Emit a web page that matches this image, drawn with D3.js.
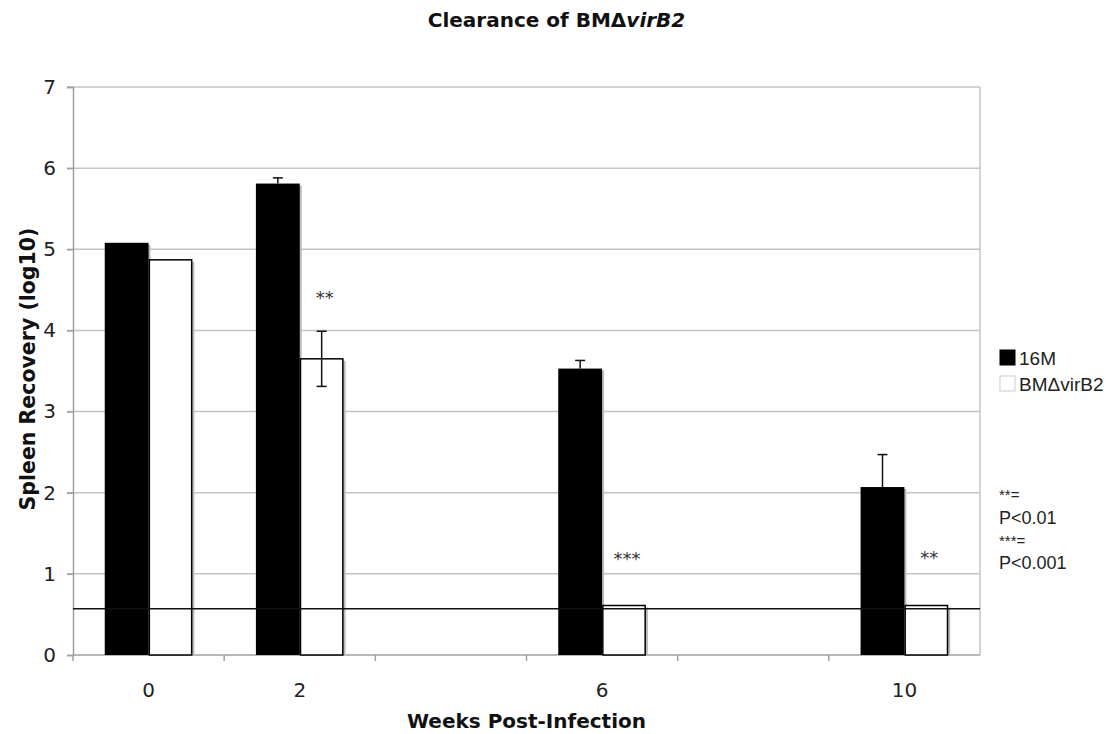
<!DOCTYPE html>
<html>
<head>
<meta charset="utf-8">
<script src="https://cdn.jsdelivr.net/npm/d3@7"></script>
<style>
  body { margin: 0; background: #fff; }
</style>
</head>
<body>
<div id="chart"></div>
<script>
// weeks post-infection (4 and 8 are empty slots on the axis)
const weeks = [0, 2, 4, 6, 8, 10];
const tickLabels = ["0", "2", "", "6", "", "10"];
const seriesNames = ["16M", "BM\u0394virB2"];
const m16 = [5.08, 5.81, null, 3.53, null, 2.07];
const virB2 = [4.87, 3.65, null, 0.61, null, 0.61];
const m16ErrUp = [0, 0.07, null, 0.10, null, 0.40];
const virB2ErrUp = [0, 0.34, null, 0, null, 0];
const virB2ErrDown = [0, 0.34, null, 0, null, 0];
const stars = ["", "**", "", "***", "", "**"];
const starLevel = [null, 4.45, null, 1.23, null, 1.24];
const detectionLimit = 0.57;
const yTicks = [0, 1, 2, 3, 4, 5, 6, 7];
const noteLines = ["**=", "P<0.01", "***=", "P<0.001"];

const W = 1113, H = 734;
const margin = {top: 87, right: 133, bottom: 79, left: 73},
    width = W - margin.left - margin.right,
    height = H - margin.top - margin.bottom;

const svg = d3.select("#chart").append("svg")
    .attr("width", W)
    .attr("height", H)
    .style("font-family", "'DejaVu Sans', Verdana, sans-serif");

const g = svg.append("g")
    .attr("transform", "translate(" + margin.left + "," + margin.top + ")");

const x0 = d3.scaleBand().domain(weeks).range([0, width]).padding(0);
const groupW = x0.bandwidth() * 0.58;
const x1 = d3.scaleBand().domain(seriesNames).range([0, groupW]);
const y = d3.scaleLinear().domain([0, 7]).range([height, 0]);

// gridlines
g.append("g")
    .selectAll("line")
    .data(yTicks.filter(d => d > 0))
    .join("line")
    .attr("x1", -6).attr("x2", width)
    .attr("y1", d => y(d)).attr("y2", d => y(d))
    .attr("stroke", "#c4c4c4").attr("stroke-width", 1.5);

// right border
g.append("line")
    .attr("x1", width).attr("x2", width)
    .attr("y1", y(7)).attr("y2", height)
    .attr("stroke", "#c4c4c4").attr("stroke-width", 1.5);

// y axis
const yAxis = g.append("g")
    .call(d3.axisLeft(y).tickValues(yTicks).tickSize(6).tickPadding(11).tickFormat(d3.format("d")));
yAxis.select(".domain").attr("stroke", "#a0a0a0").attr("stroke-width", 1.5);
yAxis.selectAll(".tick line").attr("stroke", "#a0a0a0").attr("stroke-width", 1.5);
yAxis.selectAll("text")
    .style("font-size", "20px")
    .style("font-family", "'DejaVu Sans', Verdana, sans-serif")
    .attr("fill", "#222");

// x axis: ticks on category boundaries
const xAxisG = g.append("g").attr("transform", "translate(0," + height + ")");
xAxisG.append("line")
    .attr("x1", 0).attr("x2", width)
    .attr("stroke", "#a0a0a0").attr("stroke-width", 1.5);
xAxisG.selectAll(".bt")
    .data(weeks)
    .join("line")
    .attr("class", "bt")
    .attr("x1", d => x0(d)).attr("x2", d => x0(d))
    .attr("y1", 0).attr("y2", 6)
    .attr("stroke", "#a0a0a0").attr("stroke-width", 1.5);
xAxisG.selectAll("text")
    .data(weeks)
    .join("text")
    .attr("x", d => x0(d) + x0.bandwidth() / 2)
    .attr("y", 42)
    .attr("text-anchor", "middle")
    .style("font-size", "20px")
    .attr("fill", "#222")
    .text((d, i) => tickLabels[i]);

// bars
const rows = weeks.map((w, i) => ({
    week: w,
    vals: [
        {s: seriesNames[0], v: m16[i], up: m16ErrUp[i], down: 0},
        {s: seriesNames[1], v: virB2[i], up: virB2ErrUp[i], down: virB2ErrDown[i]}
    ]
})).filter(r => r.vals[0].v != null);

const grp = g.selectAll(".grp")
    .data(rows)
    .join("g")
    .attr("class", "grp")
    .attr("transform", d => "translate(" + (x0(d.week) + (x0.bandwidth() - groupW) / 2) + ",0)");

// shadows
grp.selectAll(".shadow")
    .data(d => d.vals)
    .join("rect")
    .attr("class", "shadow")
    .attr("x", d => x1(d.s) + 2)
    .attr("y", d => y(d.v) + 2)
    .attr("width", x1.bandwidth())
    .attr("height", d => height - y(d.v) - 2)
    .attr("fill", "#bbb");

grp.selectAll(".bar")
    .data(d => d.vals)
    .join("rect")
    .attr("class", "bar")
    .attr("x", d => x1(d.s) + (d.s === seriesNames[0] ? 0 : 0.75))
    .attr("y", d => y(d.v))
    .attr("width", d => x1.bandwidth() - (d.s === seriesNames[0] ? 0 : 1.5))
    .attr("height", d => height - y(d.v))
    .attr("fill", d => d.s === seriesNames[0] ? "#000" : "#fff")
    .attr("stroke", "#000")
    .attr("stroke-width", d => d.s === seriesNames[0] ? 0 : 1.5);

// detection limit line
g.append("line")
    .attr("x1", 0).attr("x2", width)
    .attr("y1", y(detectionLimit)).attr("y2", y(detectionLimit))
    .attr("stroke", "#111").attr("stroke-width", 1.5);

// error bars
const errs = grp.selectAll(".err")
    .data(d => d.vals.filter(v => v.up > 0 || v.down > 0))
    .join("g")
    .attr("class", "err")
    .attr("transform", d => "translate(" + (x1(d.s) + x1.bandwidth() / 2) + ",0)");
errs.append("line")
    .attr("y1", d => y(d.v + d.up)).attr("y2", d => y(d.v - d.down))
    .attr("stroke", "#111").attr("stroke-width", 1.5);
errs.append("line")
    .attr("x1", -5).attr("x2", 5)
    .attr("y1", d => y(d.v + d.up)).attr("y2", d => y(d.v + d.up))
    .attr("stroke", "#111").attr("stroke-width", 1.5);
errs.filter(d => d.down > 0).append("line")
    .attr("x1", -5).attr("x2", 5)
    .attr("y1", d => y(d.v - d.down)).attr("y2", d => y(d.v - d.down))
    .attr("stroke", "#111").attr("stroke-width", 1.5);

// significance stars
g.selectAll(".star")
    .data(weeks.map((w, i) => ({week: w, t: stars[i], lv: starLevel[i]})).filter(d => d.t))
    .join("text")
    .attr("class", "star")
    .attr("x", d => x0(d.week) + (x0.bandwidth() - groupW) / 2 + x1(seriesNames[1]) + x1.bandwidth() / 2 + 3)
    .attr("y", d => y(d.lv) + 10)
    .attr("text-anchor", "middle")
    .style("font-size", "18px")
    .attr("fill", "#333")
    .text(d => d.t);

// title
svg.append("text")
    .attr("x", W / 2)
    .attr("y", 27)
    .attr("text-anchor", "middle")
    .style("font-size", "20px")
    .style("font-weight", "bold")
    .attr("fill", "#111")
    .call(t => {
        t.append("tspan").text("Clearance of BM\u0394");
        t.append("tspan").style("font-style", "italic").text("virB2");
    });

// axis titles
svg.append("text")
    .attr("x", margin.left + width / 2)
    .attr("y", 728)
    .attr("text-anchor", "middle")
    .style("font-size", "20px")
    .style("font-weight", "bold")
    .attr("fill", "#111")
    .text("Weeks Post-Infection");

svg.append("text")
    .attr("transform", "translate(35," + (margin.top + height / 2 - 2) + ") rotate(-90)")
    .attr("text-anchor", "middle")
    .style("font-size", "20.5px")
    .style("font-weight", "bold")
    .attr("fill", "#111")
    .text("Spleen Recovery (log10)");

// legend
const leg = svg.append("g")
    .attr("transform", "translate(1000,350)")
    .style("font-family", "'Liberation Sans', Arial, sans-serif");
seriesNames.forEach((s, i) => {
    leg.append("rect")
        .attr("x", 0).attr("y", i * 26)
        .attr("width", 15).attr("height", 15)
        .attr("fill", i === 0 ? "#000" : "#fff")
        .attr("stroke", i === 0 ? "#000" : "#ccc");
    leg.append("text")
        .attr("x", 19).attr("y", i * 26 + 15)
        .style("font-size", "19px")
        .attr("fill", "#222")
        .text(s);
});

// p-value note
const noteY = [500, 524, 546, 569];
svg.append("g")
    .style("font-family", "'Liberation Sans', Arial, sans-serif")
    .selectAll("text")
    .data(noteLines)
    .join("text")
    .attr("x", 999)
    .attr("y", (d, i) => noteY[i])
    .style("font-size", (d, i) => i % 2 === 0 ? "15px" : "18px")
    .attr("fill", "#222")
    .text(d => d);
</script>
</body>
</html>
